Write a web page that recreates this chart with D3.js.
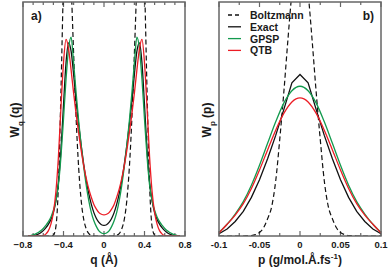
<!DOCTYPE html>
<html>
<head>
<meta charset="utf-8">
<script src="https://cdn.jsdelivr.net/npm/d3@7"></script>
<style>
  body { margin: 0; background: #fff; }
  svg { display: block; }
  text { font-family: "Liberation Sans", Arial, sans-serif; font-weight: bold; fill: #1a1a1a; }
</style>
</head>
<body>
<div id="chart"></div>
<script>
// ---- panel a) : position distribution W_q(q) ----
const qValues = [-0.75, -0.725, -0.7, -0.675, -0.65, -0.625, -0.6, -0.575, -0.55, -0.525, -0.5, -0.475, -0.45, -0.425, -0.4, -0.375, -0.35, -0.325, -0.3, -0.275, -0.25, -0.225, -0.2, -0.175, -0.15, -0.125, -0.1, -0.075, -0.05, -0.025,
  0, 0.025, 0.05, 0.075, 0.1, 0.125, 0.15, 0.175, 0.2, 0.225, 0.25, 0.275, 0.3, 0.325, 0.35, 0.375, 0.4, 0.425, 0.45, 0.475, 0.5, 0.525, 0.55, 0.575, 0.6, 0.625, 0.65, 0.675, 0.7, 0.725, 0.75];

const qBoltzmann = [0, 0, 0, 0, 0, 0, 0, 0, 0, 0, 0.003, 0.04, 0.22, 0.62, 1.08, 1.32, 1.3, 1.08, 0.78, 0.5, 0.29, 0.15, 0.07, 0.03, 0.01, 0.003, 0.001, 0, 0, 0,
  0, 0, 0, 0, 0.001, 0.003, 0.01, 0.03, 0.07, 0.15, 0.29, 0.5, 0.78, 1.08, 1.3, 1.32, 1.08, 0.62, 0.22, 0.04, 0.003, 0, 0, 0, 0, 0, 0, 0, 0, 0, 0];

const qExact = [0, 0, 0.001, 0.004, 0.008, 0.014, 0.023, 0.035, 0.05, 0.07, 0.1, 0.15, 0.23, 0.37, 0.56, 0.74, 0.825, 0.79, 0.69, 0.575, 0.475, 0.385, 0.305, 0.235, 0.18, 0.135, 0.1, 0.075, 0.058, 0.048,
  0.045, 0.048, 0.058, 0.075, 0.1, 0.135, 0.18, 0.235, 0.305, 0.385, 0.475, 0.575, 0.69, 0.79, 0.825, 0.74, 0.56, 0.37, 0.23, 0.15, 0.1, 0.07, 0.05, 0.035, 0.023, 0.014, 0.008, 0.004, 0.001, 0, 0];

const qGPSP = [0, 0.002, 0.005, 0.009, 0.015, 0.022, 0.032, 0.045, 0.06, 0.08, 0.11, 0.15, 0.22, 0.34, 0.5, 0.67, 0.8, 0.85, 0.74, 0.61, 0.49, 0.385, 0.295, 0.215, 0.15, 0.1, 0.065, 0.04, 0.022, 0.013,
  0.01, 0.013, 0.022, 0.04, 0.065, 0.1, 0.15, 0.215, 0.295, 0.385, 0.49, 0.61, 0.74, 0.85, 0.8, 0.67, 0.5, 0.34, 0.22, 0.15, 0.11, 0.08, 0.06, 0.045, 0.032, 0.022, 0.015, 0.009, 0.005, 0.002, 0];

const qQTB = [0, 0, 0, 0, 0, 0, 0.002, 0.008, 0.022, 0.05, 0.1, 0.19, 0.34, 0.55, 0.74, 0.84, 0.8, 0.71, 0.61, 0.52, 0.44, 0.365, 0.3, 0.245, 0.2, 0.165, 0.135, 0.115, 0.1, 0.093,
  0.09, 0.093, 0.1, 0.115, 0.135, 0.165, 0.2, 0.245, 0.3, 0.365, 0.44, 0.52, 0.61, 0.71, 0.8, 0.84, 0.74, 0.55, 0.34, 0.19, 0.1, 0.05, 0.022, 0.008, 0.002, 0, 0, 0, 0, 0, 0];

const qTicks = [-0.8, -0.7, -0.6, -0.5, -0.4, -0.3, -0.2, -0.1, 0, 0.1, 0.2, 0.3, 0.4, 0.5, 0.6, 0.7, 0.8];
const qLabels = [-0.8, -0.4, 0, 0.4, 0.8];

// ---- panel b) : momentum distribution W_p(p) ----
const pBoltzValues = [-0.1, -0.095, -0.09, -0.085, -0.08, -0.075, -0.07, -0.065, -0.06, -0.055, -0.05, -0.045, -0.04, -0.035, -0.03, -0.025, -0.02, -0.015, -0.01, -0.005,
  0, 0.005, 0.01, 0.015, 0.02, 0.025, 0.03, 0.035, 0.04, 0.045, 0.05, 0.055, 0.06, 0.065, 0.07, 0.075, 0.08, 0.085, 0.09, 0.095, 0.1];
const pBoltzmann = [0, 0, 0, 0, 0, 0, 0, 0.001, 0.002, 0.006, 0.015, 0.035, 0.074, 0.125, 0.235, 0.413, 0.613, 0.835, 1.04, 1.187,
  1.24, 1.187, 1.04, 0.835, 0.613, 0.413, 0.235, 0.125, 0.074, 0.035, 0.015, 0.006, 0.002, 0.001, 0, 0, 0, 0, 0, 0, 0];

const pValues = [-0.1, -0.09, -0.08, -0.07, -0.06, -0.05, -0.04, -0.03, -0.02, -0.01, 0, 0.01, 0.02, 0.03, 0.04, 0.05, 0.06, 0.07, 0.08, 0.09, 0.1];
const pExact = [0.01, 0.03, 0.062, 0.105, 0.165, 0.24, 0.33, 0.43, 0.54, 0.655, 0.69, 0.655, 0.54, 0.43, 0.33, 0.24, 0.165, 0.105, 0.062, 0.03, 0.01];
const pGPSP = [0.015, 0.05, 0.094, 0.147, 0.217, 0.302, 0.396, 0.488, 0.568, 0.621, 0.64, 0.621, 0.568, 0.488, 0.396, 0.302, 0.217, 0.147, 0.094, 0.05, 0.015];
const pQTB = [0.013, 0.05, 0.089, 0.138, 0.203, 0.282, 0.368, 0.452, 0.524, 0.573, 0.59, 0.573, 0.524, 0.452, 0.368, 0.282, 0.203, 0.138, 0.089, 0.05, 0.013];

const pTicks = [-0.1, -0.075, -0.05, -0.025, 0, 0.025, 0.05, 0.075, 0.1];
const pLabels = [-0.1, -0.05, 0, 0.05, 0.1];

const legendNames = ["Boltzmann", "Exact", "GPSP", "QTB"];

const width = 388, height = 270;
const plotTop = 2, plotBottom = 236;
const black = "#111", green = "#139a4e", red = "#ec1c24", frame = "#666";

const svg = d3.select("#chart").append("svg")
  .attr("width", width)
  .attr("height", height);

const y = d3.scaleLinear().domain([0, 1]).range([plotBottom, plotTop]);

function panel(id, x0, x1, domain, ticks, majors, labels, fmt) {
  const x = d3.scaleLinear().domain(domain).range([x0, x1]);
  const g = svg.append("g");

  svg.append("clipPath").attr("id", id)
    .append("rect")
      .attr("x", x0).attr("y", plotTop)
      .attr("width", x1 - x0).attr("height", plotBottom - plotTop);

  // inward ticks, top and bottom
  const isMajor = v => majors.some(m => Math.abs(m - v) < 1e-9);
  [[plotBottom, -1], [plotTop, 1]].forEach(([yy, dir]) => {
    g.append("g")
      .selectAll("line")
      .data(ticks)
      .enter().append("line")
        .attr("x1", d => x(d)).attr("x2", d => x(d))
        .attr("y1", yy)
        .attr("y2", d => yy + dir * (isMajor(d) ? 5 : 3))
        .attr("stroke", frame)
        .attr("stroke-width", 1.2);
  });

  g.append("g")
    .selectAll("text")
    .data(labels)
    .enter().append("text")
      .attr("x", d => x(d))
      .attr("y", 248)
      .attr("text-anchor", "middle")
      .style("font-size", "9.5px")
      .text(fmt);

  const lines = g.append("g").attr("clip-path", `url(#${id})`);
  return { x, g, lines };
}

function drawLine(layer, x, xs, ys, color, opts = {}) {
  const line = d3.line()
    .x((d, i) => x(xs[i]))
    .y(d => y(d))
    .curve(opts.linear ? d3.curveLinear : d3.curveMonotoneX);
  layer.append("path")
    .datum(ys)
    .attr("fill", "none")
    .attr("stroke", color)
    .attr("stroke-width", opts.w || 1.3)
    .attr("stroke-dasharray", opts.dash || null)
    .attr("d", line);
}

// panel a)
const a = panel("clipA", 23, 185, [-0.8, 0.8], qTicks, qLabels, qLabels, d => d === 0 ? "0" : d3.format(".1f")(d));
drawLine(a.lines, a.x, qValues, qBoltzmann, black, { dash: "5,3", w: 1.2 });
drawLine(a.lines, a.x, qValues, qExact, black);
drawLine(a.lines, a.x, qValues, qGPSP, green);
drawLine(a.lines, a.x, qValues, qQTB, red);

// panel b)
const b = panel("clipB", 219, 381, [-0.1, 0.1], pTicks, pLabels, pLabels, d => d === 0 ? "0" : String(d));
drawLine(b.lines, b.x, pBoltzValues, pBoltzmann, black, { dash: "5,3", w: 1.2 });
drawLine(b.lines, b.x, pValues, pExact, black, { linear: true });
drawLine(b.lines, b.x, pValues, pGPSP, green);
drawLine(b.lines, b.x, pValues, pQTB, red);

// frames
[[23, 185], [219, 381]].forEach(([x0, x1]) => {
  svg.append("rect")
    .attr("x", x0).attr("y", plotTop)
    .attr("width", x1 - x0).attr("height", plotBottom - plotTop)
    .attr("fill", "none")
    .attr("stroke", frame)
    .attr("stroke-width", 1.5);
});

// panel letters
svg.append("text").attr("x", 31).attr("y", 20).style("font-size", "12px").text("a)");
svg.append("text").attr("x", 374).attr("y", 20).attr("text-anchor", "end").style("font-size", "12px").text("b)");

// axis titles
svg.append("text")
  .attr("x", 104).attr("y", 264)
  .attr("text-anchor", "middle")
  .style("font-size", "12px")
  .text("q (Å)");

const xt = svg.append("text")
  .attr("x", 300).attr("y", 264)
  .attr("text-anchor", "middle")
  .style("font-size", "12px");
xt.append("tspan").text("p (g/mol.Å.fs");
xt.append("tspan").attr("dy", -5).style("font-size", "8px").text("-1");
xt.append("tspan").attr("dy", 5).text(")");

function yTitle(xx, sub, arg) {
  const t = svg.append("text")
    .attr("transform", `translate(${xx},120) rotate(-90)`)
    .attr("text-anchor", "middle")
    .style("font-size", "12px");
  t.append("tspan").text("W");
  t.append("tspan").attr("dy", 4).style("font-size", "8px").text(sub);
  t.append("tspan").attr("dy", -4).text(" (" + arg + ")");
}
yTitle(19, "q", "q");
yTitle(211, "p", "p");

// legend
const legend = svg.append("g").attr("transform", "translate(228,15)");
const legendColors = [black, black, green, red];
legendNames.forEach((name, i) => {
  const row = legend.append("g").attr("transform", `translate(0,${i * 11.8})`);
  row.append("line")
    .attr("x1", 0).attr("x2", 13)
    .attr("stroke", legendColors[i])
    .attr("stroke-width", 1.3)
    .attr("stroke-dasharray", i === 0 ? "4,3" : null);
  row.append("text")
    .attr("x", 22).attr("y", 4)
    .style("font-size", "10.5px")
    .text(name);
});
</script>
</body>
</html>
